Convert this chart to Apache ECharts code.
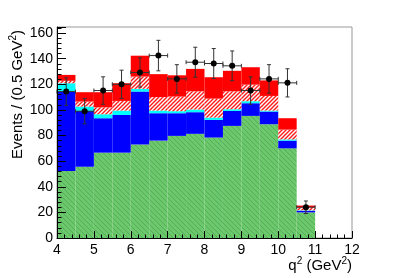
<!DOCTYPE html>
<html><head><meta charset="utf-8">
<script src="https://cdn.jsdelivr.net/npm/echarts@6/dist/echarts.min.js"></script>
<style>html,body{margin:0;padding:0;background:#fff}#c{width:409px;height:278px}</style>
</head><body><div id="c"></div>
<script>
// ---- data ----
const binLowEdges = [4, 4.5, 5, 5.5, 6, 6.5, 7, 7.5, 8, 8.5, 9, 9.5, 10, 10.5];
const binWidth = 0.5;
// stacked components, bottom to top
const greenComp   = [52.3, 55.7, 66.6, 66.6, 73.0, 76.0, 79.7, 81.3, 78.4, 87.5, 95.3, 88.8, 70.0, 20.0];
const blueComp    = [62.0, 43.5, 26.9, 29.4, 41.3, 21.4, 17.7, 16.9, 13.8, 11.7, 9.9, 9.9, 6.0, 1.3];
const cyanComp    = [6.5, 3.4, 3.1, 3.5, 2.1, 2.1, 1.6, 2.1, 1.8, 1.3, 1.6, 0.8, 1.0, 0.3];
const hatchComp   = [1.9, 3.9, 5.4, 7.5, 9.6, 10.5, 11.4, 14.2, 14.8, 14.0, 12.9, 11.4, 7.6, 2.4];
const redComp     = [4.6, 7.3, 11.8, 13.8, 16.3, 17.9, 16.6, 17.5, 16.7, 16.0, 13.6, 12.1, 8.9, 1.3];
// data points
const dataCounts  = [114.3, 99.0, 115.1, 120.0, 129.2, 142.4, 124.2, 137.2, 136.2, 134.4, 115.1, 124.2, 121.1, 24.0];
const dataErrors  = [10.7, 9.9, 10.7, 11.0, 11.4, 11.9, 11.1, 11.7, 11.7, 11.6, 10.7, 11.1, 11.0, 4.9];
// axes
const xTickValues = [4, 5, 6, 7, 8, 9, 10, 11, 12];
const yTickValues = [0, 20, 40, 60, 80, 100, 120, 140, 160];
const yAxisMax = 164.7;

// ---- styles ----
function makeHatch(bg, fg, size, dir, lw) {
  const c = document.createElement('canvas');
  c.width = size; c.height = size;
  const g = c.getContext('2d');
  if (bg) { g.fillStyle = bg; g.fillRect(0, 0, size, size); }
  g.strokeStyle = fg; g.lineWidth = lw;
  g.beginPath();
  if (dir > 0) {
    g.moveTo(-1, size + 1); g.lineTo(size + 1, -1);
    g.moveTo(-1, 1); g.lineTo(1, -1);
    g.moveTo(size - 1, size + 1); g.lineTo(size + 1, size - 1);
  } else {
    g.moveTo(-1, -1); g.lineTo(size + 1, size + 1);
    g.moveTo(size - 1, -1); g.lineTo(size + 1, 1);
    g.moveTo(-1, size - 1); g.lineTo(1, size + 1);
  }
  g.stroke();
  return c;
}
const greenFill = { image: makeHatch('#6cc86c', '#56ad56', 5, -1, 1), repeat: 'repeat' };
const redHatchFill = { image: makeHatch('#ffffff', '#ff1a1a', 4, 1, 1.4), repeat: 'repeat' };

const layers = [
  { name: 'green', comp: greenComp, fill: greenFill },
  { name: 'blue', comp: blueComp, fill: '#0000ff' },
  { name: 'cyan', comp: cyanComp, fill: '#00ffff' },
  { name: 'hatched', comp: hatchComp, fill: redHatchFill },
  { name: 'red', comp: redComp, fill: '#ff0000' }
];

const base = binLowEdges.map(() => 0);
const series = layers.map(L => {
  const d = binLowEdges.map((x, i) => {
    const b = base[i];
    const t = b + L.comp[i];
    base[i] = t;
    return [x, x + binWidth, b, t];
  });
  const fill = L.fill;
  return {
    type: 'custom', name: L.name, data: d, z: 2,
    renderItem: function (params, api) {
      const p0 = api.coord([api.value(0), api.value(2)]);
      const p1 = api.coord([api.value(1), api.value(3)]);
      return {
        type: 'rect',
        shape: { x: p0[0], y: p1[1], width: p1[0] - p0[0], height: p0[1] - p1[1] },
        style: { fill: fill }
      };
    }
  };
});

series.push({
  type: 'custom', name: 'data', z: 4,
  data: binLowEdges.map((x, i) => [x + binWidth / 2, dataCounts[i], dataErrors[i]]),
  renderItem: function (params, api) {
    const x = api.value(0), y = api.value(1), e = api.value(2);
    const c = api.coord([x, y]);
    const t = api.coord([x, y + e]);
    const b = api.coord([x, y - e]);
    const l = api.coord([x - binWidth / 2, y]);
    const r = api.coord([x + binWidth / 2, y]);
    const ls = { stroke: '#333', lineWidth: 1 };
    const cap = 2;
    return {
      type: 'group',
      children: [
        { type: 'line', shape: { x1: c[0], y1: t[1], x2: c[0], y2: b[1] }, style: ls },
        { type: 'line', shape: { x1: l[0], y1: c[1], x2: r[0], y2: c[1] }, style: ls },
        { type: 'line', shape: { x1: c[0] - cap, y1: t[1], x2: c[0] + cap, y2: t[1] }, style: ls },
        { type: 'line', shape: { x1: c[0] - cap, y1: b[1], x2: c[0] + cap, y2: b[1] }, style: ls },
        { type: 'line', shape: { x1: l[0], y1: c[1] - cap, x2: l[0], y2: c[1] + cap }, style: ls },
        { type: 'line', shape: { x1: r[0], y1: c[1] - cap, x2: r[0], y2: c[1] + cap }, style: ls },
        { type: 'circle', shape: { cx: c[0], cy: c[1], r: 3 }, style: { fill: '#000' } }
      ]
    };
  }
});

const FONT = 'Liberation Sans, Arial, Helvetica, sans-serif';
const chart = echarts.init(document.getElementById('c'), null, { renderer: 'canvas' });
chart.setOption({
  animation: false,
  backgroundColor: '#fff',
  grid: { left: 57, right: 57, top: 27, bottom: 40, show: true, borderColor: '#999', borderWidth: 1, backgroundColor: 'transparent' },
  xAxis: {
    type: 'value', min: xTickValues[0], max: xTickValues[xTickValues.length - 1], interval: 1, z: 5,
    axisLine: { show: true, onZero: false, lineStyle: { color: '#000', width: 1 } },
    axisTick: { show: true, inside: true, length: 7, lineStyle: { color: '#000' } },
    minorTick: { show: true, splitNumber: 5, length: 3.5, lineStyle: { color: '#000' } },
    splitLine: { show: false },
    axisLabel: { color: '#000', fontSize: 14, fontFamily: FONT, margin: 5,
      formatter: v => (xTickValues.indexOf(v) >= 0 ? String(v) : '') }
  },
  yAxis: {
    type: 'value', min: 0, max: yAxisMax, interval: 20, z: 5,
    axisLine: { show: true, lineStyle: { color: '#000', width: 1 } },
    axisTick: { show: true, inside: true, length: 9, lineStyle: { color: '#000' } },
    minorTick: { show: true, splitNumber: 5, length: 4.5, lineStyle: { color: '#000' } },
    splitLine: { show: false },
    axisLabel: { color: '#000', fontSize: 14, fontFamily: FONT, margin: 4,
      formatter: v => (yTickValues.indexOf(v) >= 0 ? String(v) : '') }
  },
  graphic: [
    { type: 'text', x: 18, y: 30, rotation: Math.PI / 2, z: 10,
      style: { text: 'Events / (0.5 GeV{s|2})', fontSize: 15, fontFamily: FONT, fill: '#000',
        align: 'right', verticalAlign: 'middle', lineHeight: 20,
        rich: { s: { fontSize: 10, fontFamily: FONT, verticalAlign: 'top', lineHeight: 12 } } } },
    { type: 'text', x: 352, y: 266, z: 10,
      style: { text: 'q{s|2} (GeV{s|2})', fontSize: 15, fontFamily: FONT, fill: '#000',
        align: 'right', verticalAlign: 'middle', lineHeight: 20,
        rich: { s: { fontSize: 10, fontFamily: FONT, verticalAlign: 'top', lineHeight: 12 } } } }
  ],
  series: series
});
</script>
</body></html>
